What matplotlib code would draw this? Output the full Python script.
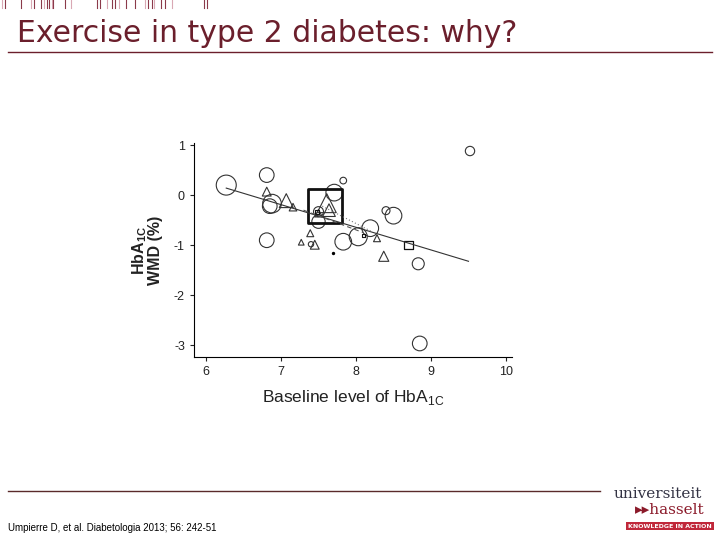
import numpy as np
import matplotlib.pyplot as plt

plt.rcParams['axes.unicode_minus'] = False

# study estimates: circles, triangles, squares (x = baseline HbA1c, y = WMD, w = weight)
circ_x = [6.27, 6.81, 6.88, 6.81, 6.85, 7.71, 7.83, 7.50, 7.83, 8.03, 8.19, 8.40, 8.50, 8.83, 9.52, 8.85, 7.40, 7.50]
circ_y = [0.20, 0.40, -0.17, -0.90, -0.22, 0.05, 0.29, -0.53, -0.93, -0.83, -0.66, -0.31, -0.41, -1.37, 0.88, -2.96, -0.98, -0.33]
circ_w = [30, 22, 28, 22, 22, 25, 10, 20, 25, 27, 25, 12, 25, 18, 14, 22, 8, 15]

tri_x = [6.81, 7.07, 7.16, 7.61, 7.39, 7.27, 7.45, 8.28, 8.37, 7.50, 7.64]
tri_y = [0.07, -0.11, -0.24, -0.16, -0.76, -0.94, -0.99, -0.86, -1.22, -0.36, -0.30]
tri_w = [14, 22, 12, 30, 11, 9, 14, 11, 16, 12, 20]

sq_x = [7.59, 8.70, 8.10, 7.48]
sq_y = [-0.22, -0.99, -0.80, -0.33]
sq_w = [100, 24, 9, 12]

fit_x = [6.27, 9.50]
fit_y = [0.14, -1.32]
dash_x = [7.30, 8.10]
dash_y = [-0.30, -0.75]
dot_x = [7.55, 8.20]
dot_y = [-0.22, -0.72]

title_col = '#6b1f2c'

fig = plt.figure(figsize=(7.2, 5.4), dpi=100)

# header barcode
bars = [1.7, 5, 20.7, 30.7, 34.3, 40.7, 44.3, 46.7, 49, 51.7, 53.3, 65, 70.7, 96.7, 100,
        107.3, 111.7, 115, 119.3, 126, 135, 145, 148.3, 151.7, 154, 160.7, 165, 171.7, 204, 207.3]
for i, b in enumerate(bars):
    col = '#8b3a4a' if i % 3 else '#d9a8b4'
    fig.add_artist(plt.Line2D([b / 720, b / 720], [1 - 8 / 540, 1.0], color=col, lw=0.8))

fig.text(17 / 720, 1 - 33 / 540, 'Exercise in type 2 diabetes: why?', fontsize=21.5,
         color=title_col, va='center', ha='left', family='DejaVu Sans')
fig.add_artist(plt.Line2D([8 / 720, 712 / 720], [1 - 52 / 540] * 2, color=title_col, lw=1))
fig.add_artist(plt.Line2D([8 / 720, 600 / 720], [1 - 491 / 540] * 2, color='#5a2a2a', lw=1))
fig.text(8 / 720, 1 - 528 / 540, 'Umpierre D, et al. Diabetologia 2013; 56: 242-51',
         fontsize=7, va='center', ha='left', family='Liberation Sans')

# logo
fig.text(658 / 720, 1 - 494 / 540, 'universiteit', fontsize=11, color='#333344',
         ha='center', va='center', family='DejaVu Serif')
fig.text(670 / 720, 1 - 510 / 540, '\u25b8\u25b8hasselt', fontsize=11, color='#8b1a2a',
         ha='center', va='center', family='DejaVu Serif')
fig.text(670 / 720, 1 - 526 / 540, 'KNOWLEDGE IN ACTION', fontsize=4.5, color='white',
         ha='center', va='center', family='DejaVu Sans', weight='bold',
         bbox=dict(facecolor='#c0283a', edgecolor='none', pad=1.2))

ax = fig.add_axes([194 / 720, 1 - 357 / 540, 318 / 720, 214 / 540])

def sz(w):
    return (0.48 * np.array(w)) ** 2

ax.scatter(circ_x, circ_y, s=sz(circ_w), facecolors='none', edgecolors='#333333', linewidths=0.8, marker='o')
ax.scatter(tri_x, tri_y, s=sz(tri_w) * 0.9, facecolors='none', edgecolors='#333333', linewidths=0.8, marker='^')
ax.scatter(sq_x, sq_y, s=sz(sq_w) * 0.26, facecolors='none', edgecolors='#111111',
           linewidths=[2.0, 0.9, 0.8, 0.8], marker='s')
ax.scatter([7.69], [-1.16], s=2, color='black')

ax.plot(fit_x, fit_y, color='#333333', lw=0.8)
ax.plot(dash_x, dash_y, color='#555555', lw=0.8, ls=(0, (4, 3)))
ax.plot(dot_x, dot_y, color='#777777', lw=0.8, ls=(0, (1, 2)))

ax.set_xlim(5.84, 10.08)
ax.set_ylim(-3.23, 1.04)
ax.set_xticks([6, 7, 8, 9, 10])
ax.set_yticks([1, 0, -1, -2, -3])
ax.spines['top'].set_visible(False)
ax.spines['right'].set_visible(False)
ax.tick_params(labelsize=9, length=3, width=0.8, colors='#222222')
for lab in ax.get_xticklabels() + ax.get_yticklabels():
    lab.set_family('Liberation Sans')

ax.set_xlabel('Baseline level of HbA$_{\\mathregular{1C}}$', fontsize=12.5,
              family='Liberation Sans', labelpad=7, color='#222222')
ax.set_ylabel('HbA$_{\\mathregular{1C}}$\nWMD (%)', fontsize=11.5, family='Liberation Sans',
              weight='bold', labelpad=8, linespacing=0.9, color='#222222')

fig.savefig('out.png', dpi=100)
